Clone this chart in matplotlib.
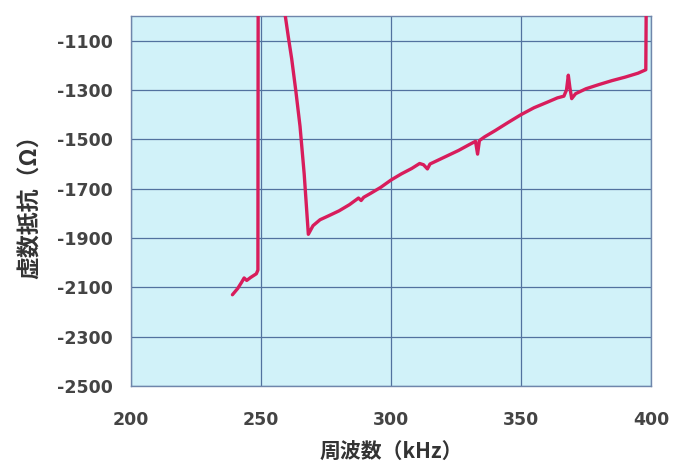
import matplotlib
matplotlib.use("Agg")
import matplotlib.pyplot as plt

plt.rcParams['font.family'] = ['Noto Sans CJK JP', 'DejaVu Sans']
plt.rcParams['axes.unicode_minus'] = False

# Imaginary resistance vs. frequency (kHz, ohm)
freq_low = [239.0, 241.0, 242.5, 243.5, 244.5, 246.0, 248.2, 248.8, 248.9]
imag_low = [-2130, -2105, -2080, -2062, -2072, -2060, -2045, -2030, -900]

freq_high = [259.0, 259.2, 260.5, 261.8, 263.4, 265.0, 266.6, 268.2, 270.0,
             272.7, 276.0, 280.0, 284.0, 287.5, 288.5, 289.5, 292.0, 296.0,
             300.0, 304.0, 308.0, 311.0, 312.5, 314.0, 315.0, 318.0, 322.0,
             326.0, 330.0, 332.5, 333.3, 334.0, 336.0, 340.0, 345.0, 350.0,
             355.0, 360.0, 364.0, 366.5, 367.5, 368.2, 368.8, 369.5, 371.0,
             375.0, 380.0, 385.0, 390.0, 395.0, 398.0, 398.2]
imag_high = [-960, -990, -1085, -1174, -1305, -1447, -1640, -1885, -1850,
             -1826, -1810, -1790, -1765, -1738, -1748, -1735, -1720, -1695,
             -1665, -1640, -1618, -1598, -1603, -1620, -1600, -1585, -1565,
             -1545, -1522, -1508, -1560, -1505, -1490, -1465, -1432, -1400,
             -1372, -1350, -1332, -1325, -1300, -1240, -1290, -1335, -1315,
             -1295, -1278, -1262, -1248, -1232, -1218, -900]

x_ticks = [200, 250, 300, 350, 400]
y_ticks = [-2500, -2300, -2100, -1900, -1700, -1500, -1300, -1100]

fig = plt.figure(figsize=(6.73, 4.70), dpi=100)
ax = fig.add_axes([0.1947, 0.1787, 0.7726, 0.7873])
ax.set_facecolor('#d1f2f9')

line_color = '#d81d5c'
for fx, fy in ((freq_low, imag_low), (freq_high, imag_high)):
    ax.plot(fx, fy, color=line_color, lw=2.4, solid_joinstyle='round',
            solid_capstyle='round', zorder=3)

ax.set_xlim(200, 400)
ax.set_ylim(-2500, -1000)
ax.set_xticks(x_ticks)
ax.set_yticks(y_ticks)
ax.set_xticklabels([str(v) for v in x_ticks])
ax.set_yticklabels([str(v) for v in y_ticks])

ax.grid(True, color='#52729f', lw=0.9, zorder=1)
ax.set_axisbelow(True)
for s in ax.spines.values():
    s.set_color('#6f86ab')
    s.set_linewidth(1.0)

ax.tick_params(length=0, labelcolor='#444444')
ax.tick_params(axis='x', pad=18)
ax.tick_params(axis='y', pad=13)
for lbl in ax.get_xticklabels() + ax.get_yticklabels():
    lbl.set_family('DejaVu Sans')
    lbl.set_fontweight('bold')
    lbl.set_fontsize(12.5)

ax.set_xlabel('周波数（kHz）', fontsize=15, fontweight='bold', color='#333333',
              labelpad=9)
ax.set_ylabel('虚数抵抗（Ω）', fontsize=16.5, fontweight='bold', color='#333333',
              labelpad=11)

fig.savefig('out.png', dpi=100)
